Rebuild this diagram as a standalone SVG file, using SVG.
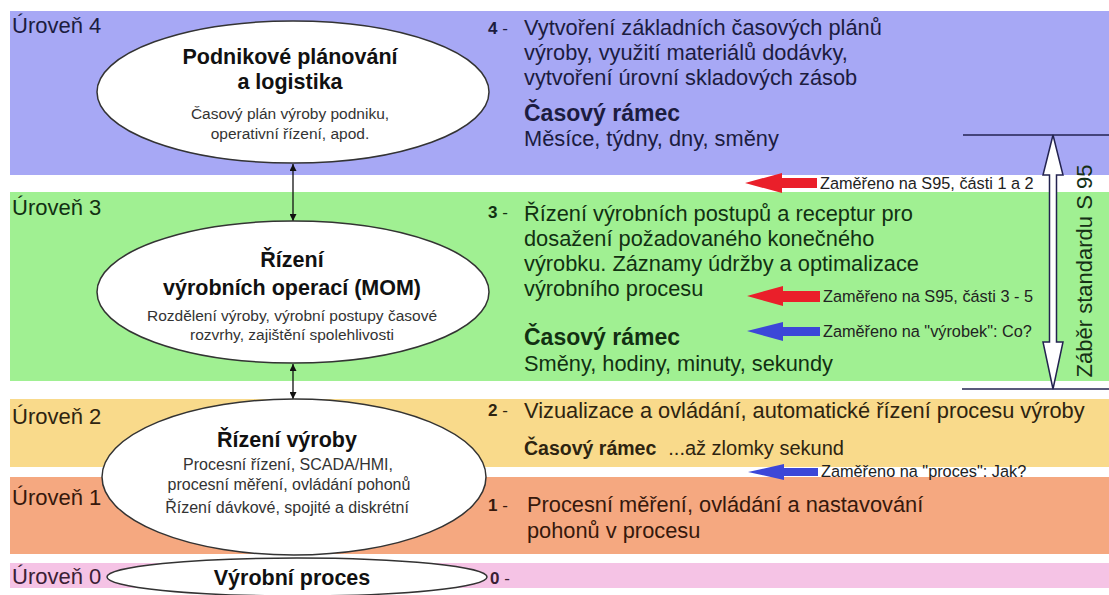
<svg xmlns="http://www.w3.org/2000/svg" width="1109" height="595" viewBox="0 0 1109 595">
  <defs>
    <style>
      text { font-family: "Liberation Sans", Arial, sans-serif; }
      .lvl { font-size: 22px; }
      .body { font-size: 21.8px; }
      .num { font-size: 17px; font-weight: bold; }
      .dash { font-size: 17px; font-weight: normal; }
      .frame { font-size: 23px; font-weight: bold; }
      .title { font-size: 21.5px; font-weight: bold; text-anchor: middle; fill: #111; }
      .sub { font-size: 15.5px; text-anchor: middle; fill: #333; }
      .sub3 { font-size: 16px; text-anchor: middle; fill: #333; }
      .note { font-size: 16.3px; fill: #222; }
      .node { fill: #ffffff; stroke: #333333; stroke-width: 1.5; }
      .conn { stroke: #111111; stroke-width: 1.3; fill: none; }
      .red { fill: #ea1f2a; }
      .blue { fill: #3c47d8; }
      .scope { stroke: #232350; stroke-width: 1.5; }
    </style>
    <marker id="ah" viewBox="0 0 10 10" refX="10" refY="5" markerWidth="7" markerHeight="7" orient="auto-start-reverse" markerUnits="userSpaceOnUse">
      <path d="M0,0 L10,5 L0,10 z" fill="#111111"/>
    </marker>
  </defs>

  <rect width="1109" height="595" fill="#ffffff"/>

  <!-- level bands -->
  <g id="bands">
    <rect x="10" y="11" width="1099" height="164" fill="#a7a8f5"/>
    <rect x="10" y="192" width="1099" height="189" fill="#a0f092"/>
    <rect x="10" y="399" width="1099" height="68" fill="#f9da8b"/>
    <rect x="10" y="477" width="1099" height="77" fill="#f5a880"/>
    <rect x="10" y="563" width="1099" height="25" fill="#f5c3e5"/>
  </g>

  <!-- level captions -->
  <g id="level-labels" class="lvl">
    <text x="12" y="33" fill="#1c1c40">Úroveň 4</text>
    <text x="12" y="215" fill="#123012">Úroveň 3</text>
    <text x="12" y="424" fill="#2e2410">Úroveň 2</text>
    <text x="12" y="505" fill="#36180c">Úroveň 1</text>
    <text x="12" y="584" fill="#3a2034">Úroveň 0</text>
  </g>

  <!-- connectors between the levels -->
  <g id="connectors">
    <line class="conn" x1="293" y1="164" x2="293" y2="221" marker-start="url(#ah)" marker-end="url(#ah)"/>
    <line class="conn" x1="293" y1="364" x2="293" y2="399" marker-start="url(#ah)" marker-end="url(#ah)"/>
  </g>

  <!-- nodes -->
  <g id="node-planning">
    <ellipse class="node" cx="293" cy="92" rx="196" ry="71"/>
    <text class="title" x="290" y="64">Podnikové plánování</text>
    <text class="title" x="290" y="89">a logistika</text>
    <text class="sub" x="290" y="119">Časový plán výroby podniku,</text>
    <text class="sub" x="290" y="139">operativní řízení, apod.</text>
  </g>

  <g id="node-mom">
    <ellipse class="node" cx="293" cy="292" rx="196" ry="71"/>
    <text class="title" x="292" y="267">Řízení</text>
    <text class="title" x="292" y="295">výrobních operací (MOM)</text>
    <text class="sub" x="292" y="321">Rozdělení výroby, výrobní postupy časové</text>
    <text class="sub" x="292" y="340">rozvrhy, zajištění spolehlivosti</text>
  </g>

  <g id="node-control">
    <ellipse class="node" cx="294" cy="477" rx="192" ry="78"/>
    <text class="title" x="287" y="447">Řízení výroby</text>
    <text class="sub3" x="288" y="470">Procesní řízení, SCADA/HMI,</text>
    <text class="sub3" x="289" y="490">procesní měření, ovládání pohonů</text>
    <text class="sub3" x="287" y="513">Řízení dávkové, spojité a diskrétní</text>
  </g>

  <g id="node-process">
    <ellipse class="node" cx="297" cy="577" rx="190" ry="19"/>
    <text class="title" x="292" y="585">Výrobní proces</text>
  </g>

  <!-- level descriptions -->
  <g id="desc-4" fill="#1c1c40">
    <text x="488" y="34"><tspan class="num">4</tspan><tspan class="dash"> -</tspan></text>
    <text class="body" x="524" y="35">Vytvoření základních časových plánů</text>
    <text class="body" x="524" y="60">výroby, využití materiálů dodávky,</text>
    <text class="body" x="524" y="85">vytvoření úrovní skladových zásob</text>
    <text class="frame" x="524" y="121">Časový rámec</text>
    <text class="body" x="524" y="146">Měsíce, týdny, dny, směny</text>
  </g>

  <g id="desc-3" fill="#123012">
    <text x="488" y="218"><tspan class="num">3</tspan><tspan class="dash"> -</tspan></text>
    <text class="body" x="524" y="221">Řízení výrobních postupů a receptur pro</text>
    <text class="body" x="524" y="246">dosažení požadovaného konečného</text>
    <text class="body" x="524" y="271">výrobku. Záznamy údržby a optimalizace</text>
    <text class="body" x="524" y="296">výrobního procesu</text>
    <text class="frame" x="524" y="345">Časový rámec</text>
    <text class="body" x="524" y="371">Směny, hodiny, minuty, sekundy</text>
  </g>

  <g id="desc-2" fill="#2e2410">
    <text x="488" y="416"><tspan class="num">2</tspan><tspan class="dash"> -</tspan></text>
    <text class="body" x="524" y="418">Vizualizace a ovládání, automatické řízení procesu výroby</text>
    <text x="524" y="455"><tspan font-size="19.5" font-weight="bold">Časový rámec</tspan><tspan font-size="20" dx="12">...až zlomky sekund</tspan></text>
  </g>

  <g id="desc-1" fill="#36180c">
    <text x="488" y="511"><tspan class="num">1</tspan><tspan class="dash"> -</tspan></text>
    <text class="body" x="527" y="512">Procesní měření, ovládání a nastavování</text>
    <text class="body" x="527" y="538">pohonů v procesu</text>
  </g>

  <g id="desc-0" fill="#3a2034">
    <text x="490" y="584"><tspan class="num">0</tspan><tspan class="dash"> -</tspan></text>
  </g>

  <!-- focus arrows -->
  <g id="focus-s95-1-2">
    <path class="red" d="M745,183 L782,173 L782,178 L817,178 L817,188 L782,188 L782,193 z"/>
    <text class="note" x="820" y="189">Zaměřeno na S95, části 1 a 2</text>
  </g>
  <g id="focus-s95-3-5">
    <path class="red" d="M747,296 L783,286 L783,291 L820,291 L820,302 L783,302 L783,306 z"/>
    <text class="note" x="823" y="302">Zaměřeno na S95, části 3 - 5</text>
  </g>
  <g id="focus-product">
    <path class="blue" d="M747,331 L783,322 L783,327 L820,327 L820,336 L783,336 L783,341 z"/>
    <text class="note" x="823" y="337">Zaměřeno na "výrobek": Co?</text>
  </g>
  <g id="focus-process">
    <path class="blue" d="M748,472 L784,464 L784,468 L818,468 L818,476 L784,476 L784,480 z"/>
    <text class="note" x="821" y="477">Zaměřeno na "proces": Jak?</text>
  </g>

  <!-- scope of the S95 standard -->
  <g id="scope">
    <line class="scope" x1="963" y1="135" x2="1109" y2="135"/>
    <line class="scope" x1="962" y1="389" x2="1109" y2="389"/>
    <path class="scope" fill="#ffffff" d="M1053,135 L1063,175 L1056.5,175 L1056.5,342 L1063,342 L1053,389 L1043,342 L1049.5,342 L1049.5,175 L1043,175 z"/>
    <text transform="translate(1092,271) rotate(-90)" text-anchor="middle" font-size="22" fill="#163016">Záběr standardu S 95</text>
  </g>
</svg>
